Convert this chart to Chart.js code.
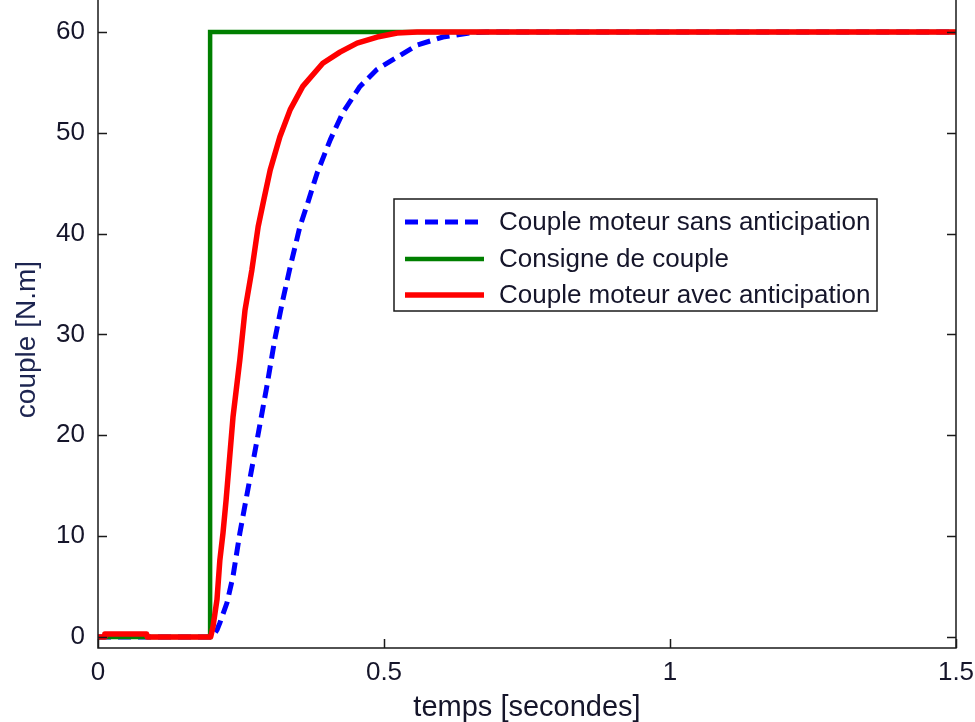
<!DOCTYPE html>
<html><head><meta charset="utf-8">
<script src="https://cdn.jsdelivr.net/npm/chart.js@4/dist/chart.umd.min.js"></script>
<style>html,body{margin:0;padding:0;background:#fff}</style>
</head><body>
<canvas id="c" width="975" height="722"></canvas>
<script>
// ---- data ----
const seriesNames = ['Couple moteur sans anticipation', 'Consigne de couple', 'Couple moteur avec anticipation'];

const tConsigne = [0, 0.196, 0.196, 1.5];
const consigne  = [0, 0, 60, 60];

const tSans = [0, 0.200, 0.208, 0.213, 0.2255, 0.236, 0.248, 0.260, 0.278, 0.295, 0.309, 0.323, 0.336, 0.353, 0.367, 0.383, 0.406, 0.428, 0.458, 0.488, 0.523, 0.558, 0.603, 0.650, 0.680, 1.5];
const coupleSans = [0, 0, 0.7, 1.4, 3.4, 6.0, 10.3, 14.0, 19.5, 24.8, 29.5, 33.4, 36.7, 40.7, 43.1, 46.0, 49.3, 52.0, 54.6, 56.3, 57.5, 58.7, 59.5, 59.9, 60, 60];

const tAvec = [0, 0.011, 0.012, 0.085, 0.086, 0.197, 0.201, 0.208, 0.213, 0.2185, 0.224, 0.236, 0.248, 0.257, 0.269, 0.280, 0.290, 0.301, 0.318, 0.336, 0.358, 0.393, 0.423, 0.453, 0.488, 0.523, 0.558, 1.5];
const coupleAvec = [0, 0, 0.3, 0.3, 0, 0, 1.0, 3.7, 7.6, 10.3, 13.6, 21.8, 27.5, 32.4, 36.4, 40.7, 43.4, 46.3, 49.6, 52.3, 54.6, 56.9, 58.0, 58.9, 59.5, 59.9, 60, 60];

const xTicks = [0, 0.5, 1, 1.5];
const xTickLabels = ['0', '0.5', '1', '1.5'];
const yTicks = [0, 10, 20, 30, 40, 50, 60];
const yTickLabels = ['0', '10', '20', '30', '40', '50', '60'];

const xTitle = 'temps [secondes]';
const yTitle = 'couple [N.m]';

// ---- helpers ----
const pts = (xs, ys) => xs.map((x, i) => ({x: x, y: ys[i]}));
const FONT = "'Liberation Sans', Arial, sans-serif";
const TEXT = '#15152a';

const framePlugin = {
  id: 'frame',
  afterDraw(chart) {
    const {ctx, chartArea: a, scales} = chart;
    ctx.save();
    ctx.strokeStyle = '#1a1a1a';
    ctx.lineWidth = 1.5;
    ctx.beginPath();
    ctx.moveTo(a.left, a.top); ctx.lineTo(a.left, a.bottom);
    ctx.lineTo(a.right, a.bottom); ctx.lineTo(a.right, a.top);
    ctx.stroke();
    const tl = 9;
    ctx.beginPath();
    scales.y.ticks.forEach(t => {
      const y = Math.round(scales.y.getPixelForValue(t.value)) + 0.5;
      ctx.moveTo(a.left, y); ctx.lineTo(a.left + tl, y);
      ctx.moveTo(a.right, y); ctx.lineTo(a.right - tl, y);
    });
    scales.x.ticks.forEach(t => {
      const x = Math.round(scales.x.getPixelForValue(t.value)) + 0.5;
      ctx.moveTo(x, a.bottom); ctx.lineTo(x, a.bottom - tl);
    });
    ctx.stroke();

    // legend box
    const bx = 394, by = 199, bw = 483, bh = 112;
    ctx.fillStyle = '#fff';
    ctx.fillRect(bx, by, bw, bh);
    ctx.lineWidth = 1.5;
    ctx.strokeStyle = '#1a1a1a';
    ctx.strokeRect(bx, by, bw, bh);
    const rows = [222, 259, 295];
    chart.data.datasets.forEach((ds, i) => {
      const y = rows[i];
      ctx.save();
      ctx.strokeStyle = ds.borderColor;
      ctx.lineWidth = ds.borderWidth;
      ctx.setLineDash(ds.borderDash || []);
      ctx.beginPath();
      ctx.moveTo(405, y); ctx.lineTo(484, y);
      ctx.stroke();
      ctx.restore();
      ctx.fillStyle = TEXT;
      ctx.font = "26px " + FONT;
      ctx.textBaseline = 'middle';
      ctx.textAlign = 'left';
      ctx.fillText(ds.label, 499, y + 1);
    });
    ctx.restore();
  }
};

new Chart(document.getElementById('c'), {
  type: 'scatter',
  data: {
    datasets: [
      {label: seriesNames[0], data: pts(tSans, coupleSans), showLine: true, borderColor: '#0000ff', borderWidth: 5, borderDash: [13, 7], pointRadius: 0, order: 3, borderJoinStyle: 'round'},
      {label: seriesNames[1], data: pts(tConsigne, consigne), showLine: true, borderColor: '#007f00', borderWidth: 4.5, pointRadius: 0, order: 2},
      {label: seriesNames[2], data: pts(tAvec, coupleAvec), showLine: true, borderColor: '#ff0000', borderWidth: 5.5, pointRadius: 0, order: 1, borderJoinStyle: 'round'}
    ]
  },
  options: {
    responsive: false,
    animation: false,
    devicePixelRatio: 1,
    layout: {padding: {top: 0, right: 19, bottom: 0, left: 0}},
    plugins: {legend: {display: false}, tooltip: {enabled: false}},
    scales: {
      x: {
        type: 'linear', min: 0, max: 1.5,
        grid: {display: false, drawTicks: false},
        border: {display: false},
        afterBuildTicks: s => { s.ticks = xTicks.map(v => ({value: v})); },
        afterFit: s => { s.height = 74; s.paddingLeft = 0; s.paddingRight = 0; },
        ticks: {
          padding: 9, color: TEXT, font: {family: FONT, size: 26},
          maxRotation: 0, autoSkip: false,
          callback: (v) => xTickLabels[xTicks.indexOf(v)]
        },
        title: {display: true, text: xTitle, color: TEXT, font: {family: FONT, size: 29, lineHeight: 1}, padding: {top: 0, bottom: 0}}
      },
      y: {
        type: 'linear', min: -1.09, max: 63.17,
        grid: {display: false, drawTicks: false},
        border: {display: false},
        afterBuildTicks: s => { s.ticks = yTicks.map(v => ({value: v})); },
        afterFit: s => { s.width = 98; s.paddingTop = 0; s.paddingBottom = 0; },
        ticks: {
          padding: 13, color: TEXT, font: {family: FONT, size: 26},
          autoSkip: false,
          callback: (v) => yTickLabels[yTicks.indexOf(v)]
        },
        title: {display: true, text: yTitle + '    ', color: '#1c2450', font: {family: FONT, size: 28, lineHeight: 1}, padding: {top: 13, bottom: 0}}
      }
    }
  },
  plugins: [framePlugin]
});
</script>
</body></html>
